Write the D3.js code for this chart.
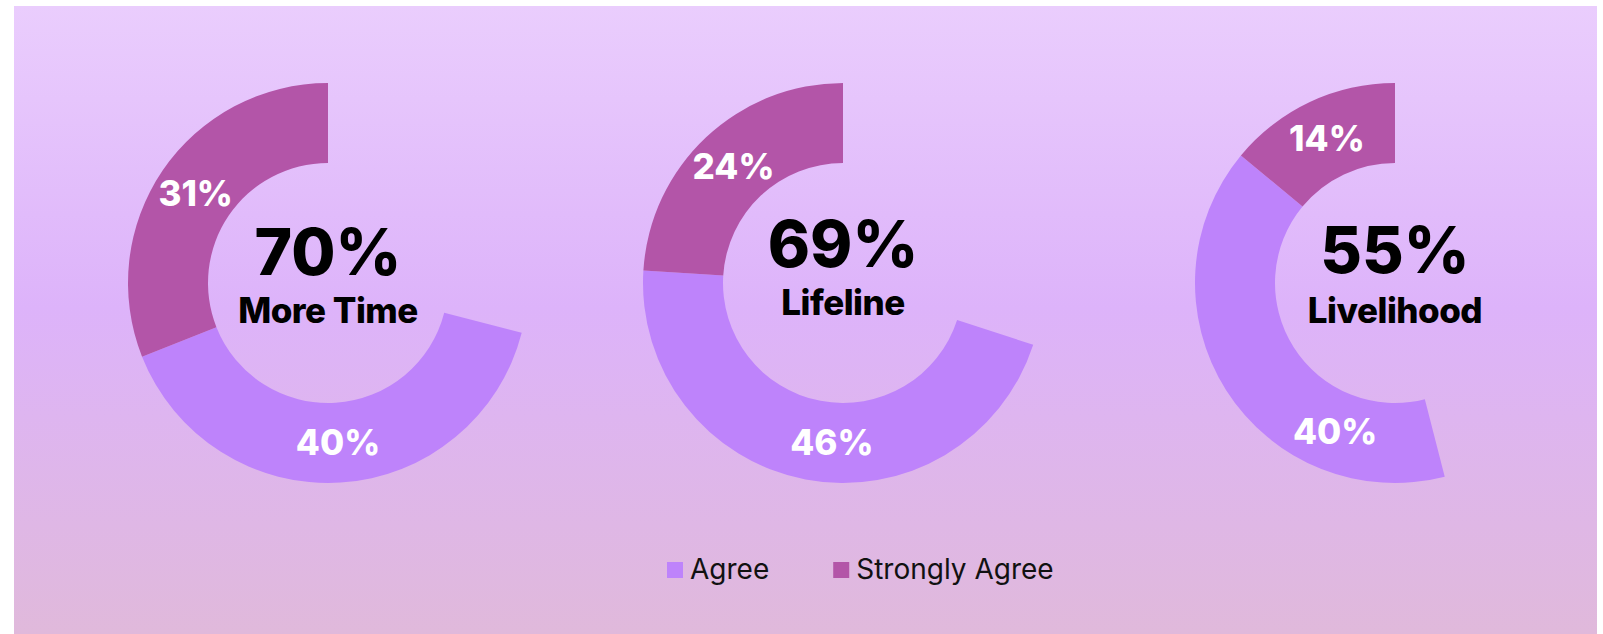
<!DOCTYPE html>
<html>
<head>
<meta charset="utf-8">
<script src="https://cdnjs.cloudflare.com/ajax/libs/d3/7.8.5/d3.min.js"></script>
<style>
  body { margin: 0; background: #fff; }
  svg { display: block; }
</style>
</head>
<body>
<div id="chart"></div>
<script>
// data
var categories = ["More Time", "Lifeline", "Livelihood"];
var totals = [70, 69, 55];
var agree = [40, 46, 40];
var stronglyAgree = [31, 24, 14];
var legendLabels = ["Agree", "Strongly Agree"];

var svgWidth = 1603;
var svgHeight = 634;

var colors = { agree: "#be83fb", strong: "#b355a8" };

var outerR = 200;
var innerR = 120;
var cy = 283;

// horizontal placement of the three donuts
var xScale = d3.scaleOrdinal()
  .domain(categories)
  .range([328, 843, 1395]);

// small nudges of the centre text, as in the original
var bigDy = [-8, -16, -10];
var subDy = [40, 32, 40];
// some Agree labels were dragged in the original (degrees, clockwise from top)
var agreeLabelAngle = [null, 184, 202];

var svg = d3.select("#chart")
  .append("svg")
  .attr("width", svgWidth)
  .attr("height", svgHeight);

var defs = svg.append("defs");
var grad = defs.append("linearGradient")
  .attr("id", "bg")
  .attr("x1", 0).attr("y1", 0).attr("x2", 0).attr("y2", 1);
grad.append("stop").attr("offset", "0%").attr("stop-color", "#eacdfd");
grad.append("stop").attr("offset", "48%").attr("stop-color", "#ddb3fa");
grad.append("stop").attr("offset", "100%").attr("stop-color", "#e0b9db");

svg.append("rect")
  .attr("x", 14)
  .attr("y", 6)
  .attr("width", 1583)
  .attr("height", 628)
  .attr("fill", "url(#bg)");

var pie = d3.pie()
  .sort(null)
  .value(d => d.value);

var arc = d3.arc()
  .innerRadius(innerR)
  .outerRadius(outerR);

var fontFam = "Inter, 'Noto Sans', sans-serif";

categories.forEach(function(cat, i) {
  // clockwise from 12 o'clock: empty gap, Agree, Strongly Agree
  var slices = [
    { key: "gap", value: 100 - agree[i] - stronglyAgree[i] },
    { key: "agree", value: agree[i] },
    { key: "strong", value: stronglyAgree[i] }
  ];

  var g = svg.append("g")
    .attr("transform", `translate(${xScale(cat)}, ${cy})`);

  var arcs = pie(slices).filter(d => d.data.key != "gap");

  g.selectAll("path")
    .data(arcs)
    .enter()
    .append("path")
    .attr("d", arc)
    .attr("fill", d => colors[d.data.key]);

  function labelPos(d) {
    if (d.data.key == "agree" && agreeLabelAngle[i] != null) {
      var a = agreeLabelAngle[i] * Math.PI / 180;
      return arc.centroid({ startAngle: a, endAngle: a });
    }
    return arc.centroid(d);
  }

  g.selectAll(".slice-label")
    .data(arcs)
    .enter()
    .append("text")
    .attr("class", "slice-label")
    .attr("transform", d => `translate(${labelPos(d)})`)
    .attr("text-anchor", "middle")
    .attr("dy", "0.36em")
    .attr("font-family", fontFam)
    .attr("font-weight", 800)
    .attr("font-size", "35px")
    .attr("fill", "#fff")
    .text(d => d.data.value + "%");

  g.append("text")
    .attr("text-anchor", "middle")
    .attr("y", bigDy[i])
    .attr("font-family", fontFam)
    .attr("font-weight", 800)
    .attr("font-size", "64px")
    .attr("fill", "#000")
    .text(totals[i] + "%");

  g.append("text")
    .attr("text-anchor", "middle")
    .attr("y", subDy[i])
    .attr("font-family", fontFam)
    .attr("font-weight", 800)
    .attr("font-size", "35px")
    .attr("letter-spacing", "-0.5px")
    .attr("fill", "#000")
    .text(cat);
});

// legend
var legend = svg.append("g").attr("transform", "translate(667, 562)");
var lx = 0;
legendLabels.forEach(function(lab, i) {
  var item = legend.append("g").attr("transform", `translate(${lx}, 0)`);
  item.append("rect")
    .attr("width", 16)
    .attr("height", 16)
    .attr("fill", i == 0 ? colors.agree : colors.strong);
  var t = item.append("text")
    .attr("x", 23)
    .attr("y", 17)
    .attr("font-family", fontFam)
    .attr("font-size", "28px")
    .attr("fill", "#111")
    .text(lab);
  lx += 23 + t.node().getComputedTextLength() + 64;
});
</script>
</body>
</html>
